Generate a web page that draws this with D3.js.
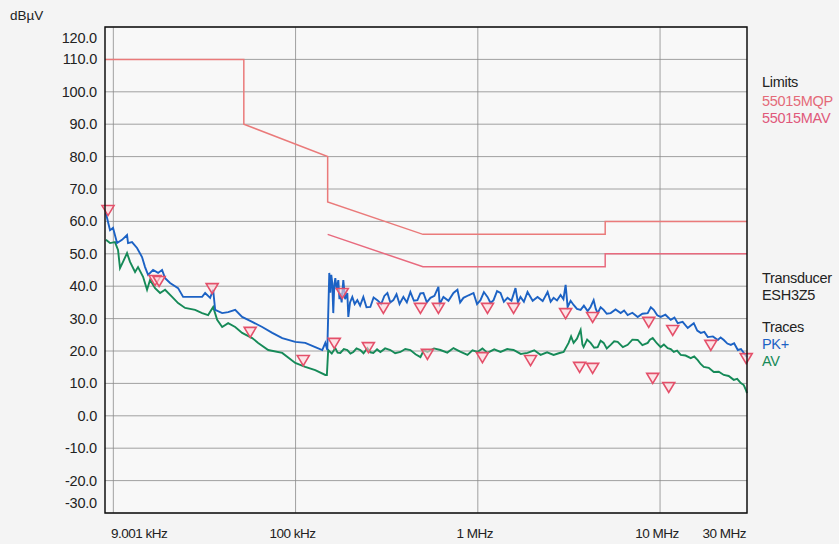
<!DOCTYPE html>
<html>
<head>
<meta charset="utf-8">
<script src="https://cdn.jsdelivr.net/npm/d3@7"></script>
<style>
  body { margin: 0; background: #f4f4f4; }
  svg { display: block; font-family: "Liberation Sans", Arial, sans-serif; }
</style>
</head>
<body>
<script>
// frequencies in kHz, levels in dBuV
var pkTrace = [[9.1,62.6],[9.35,59.8],[9.59,57.3],[9.96,58.0],[10.48,53.3],[11.16,54.3],[11.89,55.8],[12.04,53.3],[12.66,53.6],[13.49,51.8],[14.37,49.0],[14.93,45.9],[15.51,43.5],[16.52,45.0],[17.6,44.1],[18.51,45.0],[19.23,42.5],[20.48,41.0],[22.66,39.4],[24.15,36.7],[26.38,36.7],[30.71,36.7],[31.9,37.9],[33.98,36.4],[35.29,38.9],[36.2,32.7],[39.56,31.7],[42.66,32.0],[46.62,32.7],[50.91,30.5],[57.8,29.0],[65.62,27.4],[74.48,25.6],[84.48,24.0],[99.6,22.8],[113,22.5],[128.2,21.2],[140.1,20.3],[145.6,22.5],[149.3,20.3],
  [153.1,44.1],[155,38],[157,43.5],[159,41],[161,31.7],[163,40],[165.2,42.5],[168,39],[171.6,41.9],[174,36],[176,37.9],[179,35],[182.8,41.9],[187,36],[192.3,37.9],[194.7,30.5],[199,35],[204.8,36.7],[211,34.5],[218.2,35.7],[226,34],[235.4,36.7],[245,33.5],[257.2,33.6],[268,36.5],[281,35.7],[295,34.5],[307,37],[319,37.9],[331,35],[344,35.7],[358,37.5],[372,34.5],[390.5,36.7],[408,35],[426.6,38.2],[446,35.5],[466.2,35.7],[484,37.8],[503,37.9],[525,35],[549.5,36.4],[578,37],[607.9,39.8],[618,34.5],[647.5,36.7],[690,35.5],[735,37.9],[773,38.9],[800,35],[834,36.4],[890,37.2],[947,37.9],[990,34.5],[1034,35.7],[1080,38.2],[1130,36.7],[1175,34.8],[1220,35.7],[1275,38.5],[1332,37.9],[1390,35.2],[1456,36.4],[1530,35.5],[1610,39.4],[1660,35],[1715,36.7],[1790,35.2],[1874,38.2],[2000,35.5],[2127,36.7],[2270,35.4],[2415,38.2],[2510,35.2],[2605,36.4],[2720,35.6],[2846,37.3],[2950,36],[3033,40.4],[3110,33.6],
  [3230,35.5],[3355,34.2],[3500,33.0],[3666,32.7],[3820,34.0],[4005,32.3],[4150,33.5],[4322,35.7],[4440,33.0],[4546,31.7],[4720,33.5],[4904,32.7],[5100,31.5],[5358,31.7],[5700,32.8],[6080,31.7],[6350,32.5],[6643,31.1],[7050,31.8],[7538,30.5],[8000,31.5],[8555,31.7],[8900,33.5],[9231,32.7],[9650,31.0],[10085,30.5],[10700,31.2],[11445,29.6],[12000,30.3],[12505,28.6],[13300,29.0],[14191,27.1],[14700,27.8],[15313,28.6],[16000,26.3],[16727,25.6],[17500,25.9],[18279,24.3],[19500,24.5],[20745,23.4],[21500,24.2],[22383,23.4],[23400,22.3],[24453,21.9],[25500,22.4],[26721,20.3],[27800,20.6],[28827,19.4],[30000,18.1]];

var avTrace = [[9.1,54.3],[9.59,53.3],[10.21,53.6],[10.61,51.2],[10.88,45.6],[11.3,47.5],[11.89,50.2],[12.35,47.5],[13.16,44.4],[13.66,45.9],[14.56,42.9],[15.31,38.9],[15.9,41.9],[16.94,39.4],[18.05,37.9],[19.23,38.9],[21.01,36.7],[22.66,34.8],[24.77,33.3],[28.1,32.7],[30.71,31.7],[33.13,31.1],[35.29,33.6],[37.13,29.6],[39.56,27.4],[42.66,28.6],[46.62,27.4],[50.91,25.6],[57.8,24.0],[62.35,22.5],[70.78,20.3],[84.48,19.4],[99.6,16.3],[113,15.1],[128.2,14.1],[145.6,12.6],[148.5,12.6],
  [151,20.3],[158,19.2],[165.2,20.9],[170,19.5],[176,19.4],[184,20.6],[192.3,20.3],[200,19.2],[207.5,19.7],[216,20.8],[226.6,20.3],[236,19.3],[247.7,20.9],[257,19.6],[267.2,19.4],[280,20.5],[291.9,19.7],[310,20.8],[331.3,20.3],[352,19.3],[376,19.7],[400,20.6],[426.6,20.3],[455,19.0],[484.3,18.1],[505,20.2],[529,19.7],[575,20.8],[623.5,20.3],[680,19.5],[735,20.9],[800,19.8],[877.5,18.8],[935,20.2],[996,19.7],[1060,20.8],[1130,19.4],[1230,20.5],[1332,19.7],[1450,20.6],[1571,20.3],[1720,19.1],[1874,19.4],[2040,20.2],[2210,18.8],[2400,19.6],[2605,18.8],[2780,19.3],[2957,19.7],
  [3149,22.5],[3250,24.5],[3355,22.5],[3500,23.8],[3666,26.5],[3750,22.0],[3807,21.2],[3980,23.5],[4158,22.5],[4350,21.0],[4546,21.2],[4720,23.2],[4904,22.5],[5100,20.8],[5358,21.9],[5600,23.0],[5854,22.8],[6250,21.2],[6643,21.9],[7050,23.5],[7538,23.4],[8000,21.8],[8555,22.5],[8800,23.5],[9115,24.0],[9600,22.4],[10085,21.2],[10500,22.0],[11018,20.9],[11450,20.6],[11890,19.7],[12400,20.1],[12989,18.8],[13800,18.6],[14740,17.8],[15400,18.3],[16101,17.2],[16700,16.0],[17375,15.1],[18500,14.8],[19719,13.5],[21000,13.6],[22383,12.6],[23800,12.3],[25380,11.1],[26500,11.4],[27747,10.1],[28800,9.5],[29574,8.0],[30000,7.0]];

var markers = [[9.35,63.5],[16.94,41.9],[17.83,41.6],[34.85,39.4],[56.35,25.9],[110.2,17.2],[163.1,22.5],[180.5,37.9],[250.9,21.2],[303.2,33.3],[484.3,33.3],[529,19.1],[607.9,33.3],[1060,18.1],[1130,33.3],[1571,33.3],[1947,17.2],[3033,31.7],[3620,15.1],[4266,14.8],[4266,30.5],[8665,29.0],[9115,11.7],[11160,8.9],[11737,26.5],[18990,21.9],[29700,17.8]];

// EN 55015 limit lines
var limitQP = [[9,110],[52,110],[52,90],[150,80],[150,66],[500,56],[5000,56],[5000,60],[30000,60]];
var limitAV = [[150,56],[500,46],[5000,46],[5000,50],[30000,50]];

var yTicks = [120,110,100,90,80,70,60,50,40,30,20,10,0,-10,-20,-30];
var xGrid = [10,100,1000,10000];
var xTickValues = [9.001,100,1000,10000,30000];
var xTickLabels = ["9.001 kHz","100 kHz","1 MHz","10 MHz","30 MHz"];

var W = 839, H = 544;
var plotLeft = 105, plotRight = 747, plotTop = 27, plotBottom = 513;

var svg = d3.select("body").append("svg")
  .attr("width", W).attr("height", H);

var x = d3.scaleLog().domain([9, 30000]).range([plotLeft, plotRight]);
var y = d3.scaleLinear().domain([-30, 120]).range([plotBottom, plotTop]);

svg.append("rect")
  .attr("x", plotLeft).attr("y", plotTop)
  .attr("width", plotRight - plotLeft).attr("height", plotBottom - plotTop)
  .attr("fill", "#f8f8f8");

// grid
svg.append("g").selectAll("line").data(yTicks).join("line")
  .attr("x1", plotLeft).attr("x2", plotRight)
  .attr("y1", function(d) { return y(d); })
  .attr("y2", function(d) { return y(d); })
  .attr("stroke", "#8a8a8a").attr("stroke-width", 0.8);

svg.append("g").selectAll("line").data(xGrid).join("line")
  .attr("y1", plotTop).attr("y2", plotBottom)
  .attr("x1", function(d) { return x(d); })
  .attr("x2", function(d) { return x(d); })
  .attr("stroke", "#8a8a8a").attr("stroke-width", 0.8);

// y labels (top and bottom ones are pushed inward like the original)
svg.append("g").selectAll("text").data(yTicks).join("text")
  .attr("x", 97)
  .attr("y", function(d) {
    var off = d == 120 ? 11 : (d == -30 ? -10 : 0);
    return y(d) + off;
  })
  .attr("dy", "0.35em")
  .attr("text-anchor", "end")
  .attr("font-size", 14.5)
  .attr("letter-spacing", -0.2)
  .attr("fill", "#222")
  .text(function(d) { return d.toFixed(1); });

svg.append("text")
  .attr("x", 10).attr("y", 20)
  .attr("font-size", 13.5).attr("fill", "#222")
  .text("dBµV");

// x labels
svg.append("g").selectAll("text").data(xTickValues).join("text")
  .attr("x", function(d, i) {
    if (i == 0) return x(d) + 6;
    if (i == xTickValues.length - 1) return x(d) - 1;
    return x(d) - 3;
  })
  .attr("y", 533)
  .attr("dy", "0.35em")
  .attr("text-anchor", function(d, i) {
    if (i == 0) return "start";
    if (i == xTickValues.length - 1) return "end";
    return "middle";
  })
  .attr("font-size", 13.5)
  .attr("letter-spacing", -0.5)
  .attr("fill", "#222")
  .text(function(d, i) { return xTickLabels[i]; });

var line = d3.line()
  .x(function(d) { return x(d[0]); })
  .y(function(d) { return y(d[1]); });

svg.append("path").datum(limitQP)
  .attr("d", line).attr("fill", "none")
  .attr("stroke", "#ea7a7a").attr("stroke-width", 1.5);
svg.append("path").datum(limitAV)
  .attr("d", line).attr("fill", "none")
  .attr("stroke", "#e86a7e").attr("stroke-width", 1.5);

svg.append("path").datum(avTrace)
  .attr("d", line).attr("fill", "none")
  .attr("stroke", "#168a58").attr("stroke-width", 1.9);
svg.append("path").datum(pkTrace)
  .attr("d", line).attr("fill", "none")
  .attr("stroke", "#1c62c4").attr("stroke-width", 1.9);

// final measurement markers
svg.append("g").selectAll("path").data(markers).join("path")
  .attr("transform", function(d) { return "translate(" + x(d[0]) + "," + y(d[1]) + ")"; })
  .attr("d", "M-6,-4.5 L6,-4.5 L0,5.5 Z")
  .attr("fill", "rgba(255,215,220,0.6)")
  .attr("stroke", "#e4506a").attr("stroke-width", 1.6);

// frame
svg.append("rect")
  .attr("x", plotLeft).attr("y", plotTop)
  .attr("width", plotRight - plotLeft).attr("height", plotBottom - plotTop)
  .attr("fill", "none").attr("stroke", "#111").attr("stroke-width", 1.5);

// legend
var legend = [
  ["Limits", 82, "#222"],
  ["55015MQP", 101, "#e46a78"],
  ["55015MAV", 118, "#e0587a"],
  ["Transducer", 278, "#222"],
  ["ESH3Z5", 295, "#222"],
  ["Traces", 327, "#222"],
  ["PK+", 344, "#1c62c4"],
  ["AV", 361, "#168a58"]
];
svg.append("g").selectAll("text").data(legend).join("text")
  .attr("x", 762)
  .attr("y", function(d) { return d[1]; })
  .attr("dy", "0.35em")
  .attr("font-size", 14.5)
  .attr("letter-spacing", -0.3)
  .attr("fill", function(d) { return d[2]; })
  .text(function(d) { return d[0]; });
</script>
</body>
</html>
